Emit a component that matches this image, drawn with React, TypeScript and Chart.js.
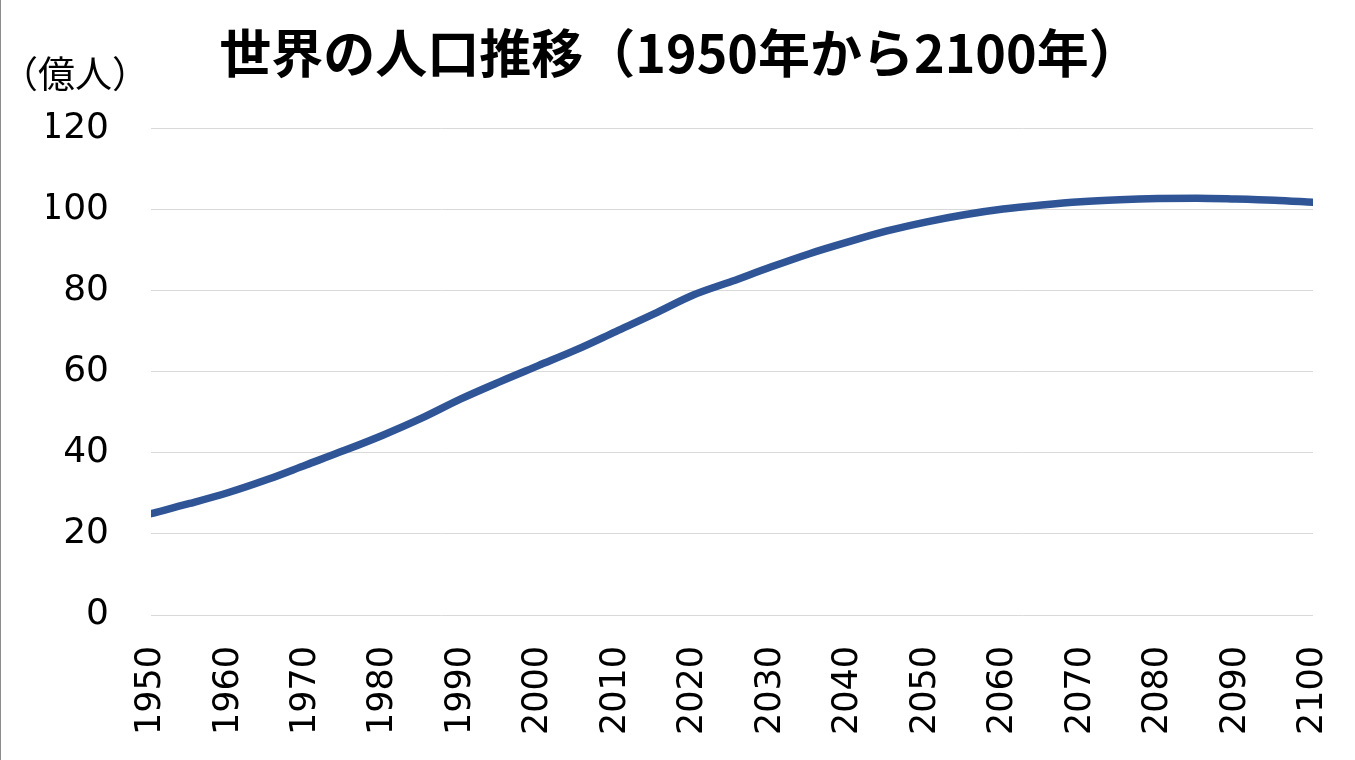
import React, { useEffect, useRef } from "react";
import { Chart, registerables } from "chart.js";

Chart.register(...registerables);

const years: number[] = [
  1950, 1955, 1960, 1965, 1970, 1975, 1980, 1985, 1990, 1995, 2000, 2005, 2010,
  2015, 2020, 2025, 2030, 2035, 2040, 2045, 2050, 2055, 2060, 2065, 2070, 2075,
  2080, 2085, 2090, 2095, 2100,
];
const population: number[] = [
  25.0, 27.5, 30.2, 33.4, 37.0, 40.6, 44.4, 48.6, 53.3, 57.5, 61.5, 65.5, 69.9,
  74.3, 78.9, 82.3, 85.8, 89.1, 92.0, 94.7, 96.9, 98.7, 100.1, 101.1, 101.9,
  102.4, 102.7, 102.8, 102.6, 102.3, 101.8,
];
const titleText = "世界の人口推移（1950年から2100年）";
const unitText = "（億人）";

export default function App() {
  const ref = useRef<HTMLCanvasElement | null>(null);
  useEffect(() => {
    if (!ref.current) return;
    const chart = new Chart(ref.current, {
      type: "line",
      data: {
        datasets: [
          {
            data: years.map((y, i) => ({ x: y, y: population[i] })),
            borderColor: "#2F5597",
            borderWidth: 7.5,
            pointRadius: 0,
            tension: 0.4,
            cubicInterpolationMode: "monotone",
            borderCapStyle: "round",
            borderJoinStyle: "round",
            fill: false,
          },
        ],
      },
      options: {
        animation: false,
        responsive: false,
        maintainAspectRatio: false,
        layout: { padding: { left: 46, right: 42, top: 0, bottom: 0 } },
        plugins: {
          legend: { display: false },
          tooltip: { enabled: false },
          title: {
            display: true,
            text: titleText,
            color: "#000",
            font: { family: "'Noto Sans CJK JP'", size: 52, weight: "bold", lineHeight: 1.2 },
            padding: { top: 22, bottom: 44 },
          },
        },
        scales: {
          x: {
            type: "linear",
            min: 1950,
            max: 2100,
            grid: { display: false, drawTicks: false },
            border: { display: false },
            afterFit: (s: any) => {
              s.height = 145;
              s.paddingLeft = 0;
              s.paddingRight = 0;
            },
            ticks: {
              stepSize: 10,
              autoSkip: false,
              minRotation: 90,
              maxRotation: 90,
              padding: 31,
              color: "#000",
              font: { family: "'DejaVu Sans'", size: 35 },
              callback: (v: any) => String(v),
            },
          },
          y: {
            min: 0,
            max: 120,
            grid: { color: "#d9d9d9", lineWidth: 1, drawTicks: false },
            border: { display: false },
            afterFit: (s: any) => {
              s.width = 104;
            },
            ticks: {
              stepSize: 20,
              padding: 42,
              color: "#000",
              font: { family: "'DejaVu Sans'", size: 36 },
            },
          },
        },
      },
    });
    return () => chart.destroy();
  }, []);
  return (
    <div
      style={{
        position: "absolute",
        left: 0,
        top: 0,
        width: 1355,
        height: 760,
        background: "#fff",
        borderLeft: "1px solid #8c8c8c",
        boxSizing: "border-box",
      }}
    >
      <canvas ref={ref} width={1354} height={760} style={{ position: "absolute", left: 0, top: 0 }} />
      <div
        style={{
          position: "absolute",
          left: 0,
          top: 49,
          fontFamily: "'Noto Sans CJK JP'",
          fontSize: 37,
          lineHeight: "46px",
          color: "#000",
          whiteSpace: "nowrap",
        }}
      >
        {unitText}
      </div>
    </div>
  );
}
